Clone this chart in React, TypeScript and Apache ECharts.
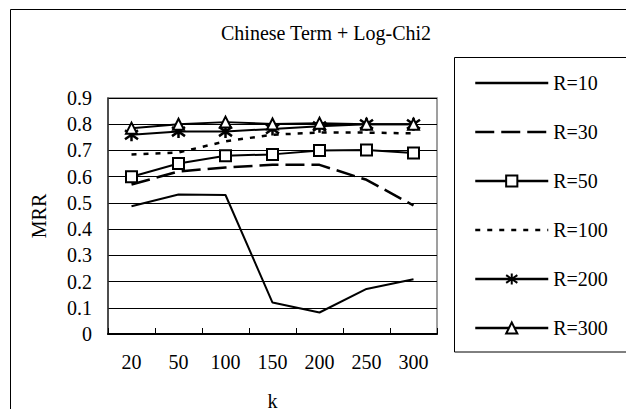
import React, { useEffect, useRef } from "react";
import * as echarts from "echarts";

const categories = ["20", "50", "100", "150", "200", "250", "300"];
const r10 = [0.487, 0.532, 0.53, 0.12, 0.082, 0.172, 0.209];
const r30 = [0.57, 0.62, 0.635, 0.645, 0.645, 0.588, 0.49];
const r50 = [0.6, 0.65, 0.68, 0.685, 0.7, 0.702, 0.69];
const r100 = [0.685, 0.692, 0.735, 0.76, 0.768, 0.768, 0.765];
const r200 = [0.76, 0.772, 0.772, 0.782, 0.792, 0.8, 0.8];
const r300 = [0.785, 0.8, 0.808, 0.801, 0.804, 0.8, 0.8];
const seriesNames = ["R=10", "R=30", "R=50", "R=100", "R=200", "R=300"];
const noMarker = ["R=10", "R=30", "R=100"];

const FONT = "serif";
const ASTERISK = "path://M5,0L5,10M0.8,1.5L9.2,8.5M0.8,8.5L9.2,1.5";

export default function App() {
  const ref = useRef<HTMLDivElement>(null);
  useEffect(() => {
    if (!ref.current) return;
    const chart = echarts.init(ref.current, null, { renderer: "svg" });
    const base = (name: string, data: number[]) => ({
      name,
      type: "line",
      data,
      color: "#000",
      lineStyle: { color: "#000", width: 2 },
      symbol: "none",
      showSymbol: true,
    });
    chart.setOption({
      animation: false,
      backgroundColor: "#fff",
      title: {
        text: "Chinese Term + Log-Chi2",
        left: 321,
        textAlign: "center",
        top: 18,
        textStyle: { fontFamily: FONT, fontSize: 20, fontWeight: "normal", color: "#000" },
      },
      grid: {
        left: 108,
        top: 98,
        right: 197,
        bottom: 83,
        show: true,
        borderColor: "#808080",
        borderWidth: 1.5,
        backgroundColor: "transparent",
      },
      legend: {
        orient: "vertical",
        left: 469,
        top: 68,
        itemWidth: 73,
        itemHeight: 14,
        itemGap: 29,
        data: seriesNames.map((n) =>
          noMarker.includes(n)
            ? { name: n, itemStyle: { color: "transparent", borderColor: "transparent", borderWidth: 0 } }
            : { name: n }
        ),
        lineStyle: { width: 2.5 },
        textStyle: { fontFamily: FONT, fontSize: 20, color: "#000", lineHeight: 20 },
        selectedMode: false,
      },
      xAxis: {
        type: "category",
        data: categories,
        boundaryGap: true,
        axisLine: { lineStyle: { color: "#000", width: 2 } },
        axisTick: { show: true, inside: true, length: 6, lineStyle: { color: "#000", width: 1 } },
        axisLabel: { fontFamily: FONT, fontSize: 20, color: "#000", margin: 18 },
        name: "k",
        nameLocation: "middle",
        nameGap: 57,
        nameTextStyle: { fontFamily: FONT, fontSize: 20, color: "#000" },
      },
      yAxis: {
        type: "value",
        min: 0,
        max: 0.9,
        interval: 0.1,
        axisLine: { show: true, lineStyle: { color: "#333", width: 1.5 } },
        axisTick: { show: false },
        axisLabel: {
          fontFamily: FONT,
          fontSize: 20,
          color: "#000",
          margin: 16,
          formatter: (v: number) => (v === 0 ? "0" : v.toFixed(1)),
        },
        splitLine: { show: true, lineStyle: { color: "#000", width: 1 } },
      },
      graphic: [
        {
          type: "rect",
          shape: { x: 10.5, y: 9.5, width: 620, height: 430 },
          style: { fill: "none", stroke: "#000", lineWidth: 1 },
          silent: true,
        },
        {
          type: "rect",
          shape: { x: 454.5, y: 57.5, width: 176, height: 294.5 },
          style: { fill: "none", stroke: "#000", lineWidth: 1 },
          silent: true,
        },
        {
          type: "text",
          x: 39,
          y: 216,
          rotation: Math.PI / 2,
          style: {
            text: "MRR",
            fontFamily: FONT,
            fontSize: 20,
            fill: "#000",
            align: "center",
            verticalAlign: "middle",
          },
          silent: true,
        },
      ],
      series: [
        { ...base("R=10", r10) },
        { ...base("R=30", r30), lineStyle: { color: "#000", width: 2.5, type: [19, 7] } },
        {
          ...base("R=50", r50),
          symbol: "rect",
          symbolSize: 11,
          itemStyle: { color: "#fff", borderColor: "#000", borderWidth: 2 },
        },
        { ...base("R=100", r100), lineStyle: { color: "#000", width: 2.5, type: [5, 7] } },
        {
          ...base("R=200", r200),
          symbol: ASTERISK,
          symbolSize: 13,
          itemStyle: { color: "#000", borderColor: "#000", borderWidth: 2.5 },
        },
        {
          ...base("R=300", r300),
          symbol: "triangle",
          symbolSize: 11,
          itemStyle: { color: "#fff", borderColor: "#000", borderWidth: 2 },
        },
      ],
    });
    return () => chart.dispose();
  }, []);
  return <div ref={ref} style={{ width: 634, height: 417, margin: -8 }} />;
}
